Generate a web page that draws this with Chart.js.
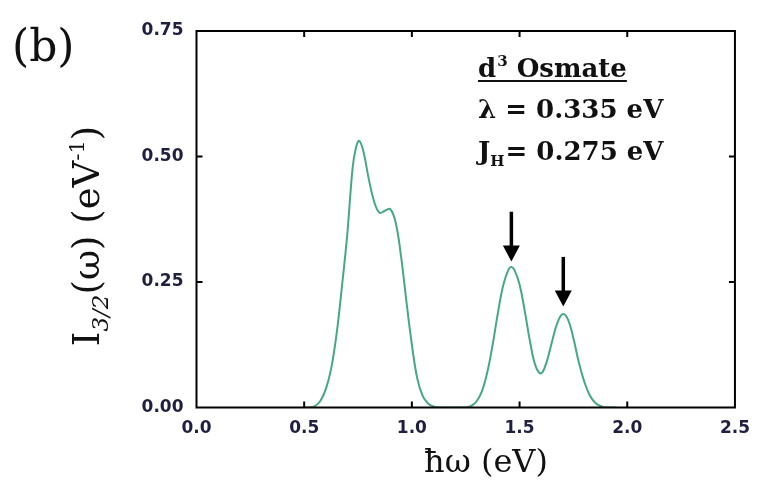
<!DOCTYPE html>
<html>
<head>
<meta charset="utf-8">
<script src="https://cdn.jsdelivr.net/npm/chart.js@4.4.1/dist/chart.umd.min.js"></script>
<style>
  html, body { margin: 0; padding: 0; background: #fff; }
  #wrap { width: 761px; height: 488px; position: relative; }
</style>
</head>
<body>
<div id="wrap"><canvas id="chart" width="761" height="488"></canvas></div>
<script>
// photon energy (eV) and I_3/2 intensity
const energy = [
  0.50, 0.525, 0.55, 0.575, 0.60, 0.625, 0.65, 0.675, 0.70, 0.725, 0.74, 0.755,
  0.775, 0.80, 0.825, 0.85, 0.875, 0.90, 0.925, 0.95, 0.975, 1.00, 1.025, 1.05,
  1.075, 1.10, 1.125, 1.25, 1.275, 1.30, 1.325, 1.35, 1.375, 1.40, 1.425, 1.45,
  1.462, 1.475, 1.50, 1.525, 1.55, 1.575, 1.60, 1.625, 1.65, 1.675, 1.70, 1.725,
  1.75, 1.775, 1.80, 1.825, 1.85, 1.875, 1.90, 1.95
];
const intensity = [
  0, 0, 0.003, 0.013, 0.036, 0.077, 0.145, 0.240, 0.345, 0.478, 0.517, 0.531,
  0.510, 0.455, 0.410, 0.388, 0.392, 0.395, 0.368, 0.300, 0.210, 0.125, 0.058, 0.023,
  0.008, 0.002, 0, 0, 0.003, 0.012, 0.032, 0.070, 0.125, 0.190, 0.245, 0.276,
  0.280, 0.275, 0.245, 0.190, 0.128, 0.082, 0.068, 0.090, 0.130, 0.168, 0.186, 0.175,
  0.138, 0.090, 0.052, 0.025, 0.010, 0.003, 0, 0
];

// arrows marking the two upper peaks: [energy, top, tip]
const arrows = [
  [1.462, 0.39, 0.291],
  [1.703, 0.30, 0.201]
];

const serif = '"DejaVu Serif", "Liberation Serif", serif';
const tickFont = { family: '"DejaVu Sans", Verdana, sans-serif', size: 17, weight: 'bold' };

// frame with inward ticks, drawn on top of the curve like the original
const framePlugin = {
  id: 'frame',
  afterDatasetsDraw(chart) {
    const { ctx, chartArea: a, scales: { x, y } } = chart;
    ctx.save();
    ctx.strokeStyle = '#000';
    ctx.lineWidth = 2;
    ctx.strokeRect(a.left, a.top, a.right - a.left, a.bottom - a.top);
    ctx.beginPath();
    x.ticks.forEach(t => {
      const px = x.getPixelForValue(t.value);
      if (px <= a.left + 1 || px >= a.right - 1) return;
      ctx.moveTo(px, a.bottom); ctx.lineTo(px, a.bottom - 6);
      ctx.moveTo(px, a.top); ctx.lineTo(px, a.top + 6);
    });
    y.ticks.forEach(t => {
      const py = y.getPixelForValue(t.value);
      if (py <= a.top + 1 || py >= a.bottom - 1) return;
      ctx.moveTo(a.left, py); ctx.lineTo(a.left + 6, py);
      ctx.moveTo(a.right, py); ctx.lineTo(a.right - 6, py);
    });
    ctx.stroke();

    // arrows
    ctx.fillStyle = '#000';
    arrows.forEach(([ex, top, tip]) => {
      const px = x.getPixelForValue(ex);
      const p0 = y.getPixelForValue(top);
      const p1 = y.getPixelForValue(tip);
      ctx.lineWidth = 3.5;
      ctx.beginPath();
      ctx.moveTo(px, p0); ctx.lineTo(px, p1 - 12);
      ctx.stroke();
      ctx.beginPath();
      ctx.moveTo(px - 8.5, p1 - 16);
      ctx.lineTo(px + 8.5, p1 - 16);
      ctx.lineTo(px, p1);
      ctx.closePath();
      ctx.fill();
    });
    ctx.restore();
  }
};

// panel label, axis titles and parameter box
const textPlugin = {
  id: 'texts',
  afterDraw(chart) {
    const ctx = chart.ctx;
    ctx.save();
    ctx.fillStyle = '#111';
    ctx.textBaseline = 'alphabetic';

    ctx.font = '44px ' + serif;
    ctx.textAlign = 'left';
    ctx.fillText('(b)', 12, 61);

    // x title
    ctx.font = '32px ' + serif;
    ctx.textAlign = 'center';
    ctx.fillText('\u0127\u03c9 (eV)', 486, 472);

    // y title, rotated, built from pieces
    const big = '37px ' + serif;
    const sub = 'italic 23px ' + serif;
    const sup = '21px ' + serif;
    const parts = [
      ['I', big, 0], ['3/2', sub, 9], ['(\u03c9) (eV', big, 0], ['-1', sup, -15], [')', big, 0]
    ];
    let total = 0;
    parts.forEach(p => { ctx.font = p[1]; total += ctx.measureText(p[0]).width; });
    ctx.translate(99, 236);
    ctx.rotate(-Math.PI / 2);
    ctx.textAlign = 'left';
    let cx = -total / 2;
    parts.forEach(p => {
      ctx.font = p[1];
      ctx.fillText(p[0], cx, p[2]);
      cx += ctx.measureText(p[0]).width;
    });
    ctx.setTransform(1, 0, 0, 1, 0, 0);

    // parameter box
    const bold = 'bold 26px ' + serif;
    ctx.textAlign = 'left';
    ctx.font = bold;
    let tx = 478;
    ctx.fillText('d', tx, 77);
    tx += ctx.measureText('d').width;
    ctx.font = 'bold 15px ' + serif;
    ctx.fillText('3', tx + 1, 66);
    tx += ctx.measureText('3').width + 1;
    ctx.font = bold;
    ctx.fillText(' Osmate', tx, 77);
    tx += ctx.measureText(' Osmate').width;
    ctx.fillRect(478, 80, tx - 478, 2);

    ctx.fillText('\u03bb = 0.335 eV', 478, 118);

    ctx.fillText('J', 478, 160);
    let jx = 478 + ctx.measureText('J').width;
    ctx.font = 'bold 15px ' + serif;
    ctx.fillText('H', jx, 166);
    jx += ctx.measureText('H').width + 1;
    ctx.font = bold;
    ctx.fillText('= 0.275 eV', jx, 160);
    ctx.restore();
  }
};

new Chart(document.getElementById('chart'), {
  type: 'line',
  data: {
    datasets: [{
      data: energy.map((e, i) => ({ x: e, y: intensity[i] })),
      borderColor: '#45a886',
      borderWidth: 2,
      pointRadius: 0,
      fill: false,
      tension: 0.4
    }]
  },
  options: {
    responsive: false,
    animation: false,
    devicePixelRatio: 1,
    layout: { padding: { left: 0, right: 20.5, top: 31, bottom: 0 } },
    plugins: { legend: { display: false }, tooltip: { enabled: false } },
    scales: {
      x: {
        type: 'linear',
        min: 0, max: 2.5,
        grid: { display: false, drawTicks: false },
        border: { display: false },
        ticks: {
          stepSize: 0.5,
          padding: 11,
          maxRotation: 0,
          color: '#1f1f3f',
          font: tickFont,
          callback: v => v.toFixed(1)
        },
        afterFit: s => { s.height = 80.5; }
      },
      y: {
        min: 0, max: 0.75,
        grid: { display: false, drawTicks: false },
        border: { display: false },
        ticks: {
          stepSize: 0.25,
          padding: 13,
          color: '#1f1f3f',
          font: tickFont,
          callback: v => v.toFixed(2)
        },
        afterFit: s => { s.width = 196.5; }
      }
    }
  },
  plugins: [framePlugin, textPlugin]
});
</script>
</body>
</html>
